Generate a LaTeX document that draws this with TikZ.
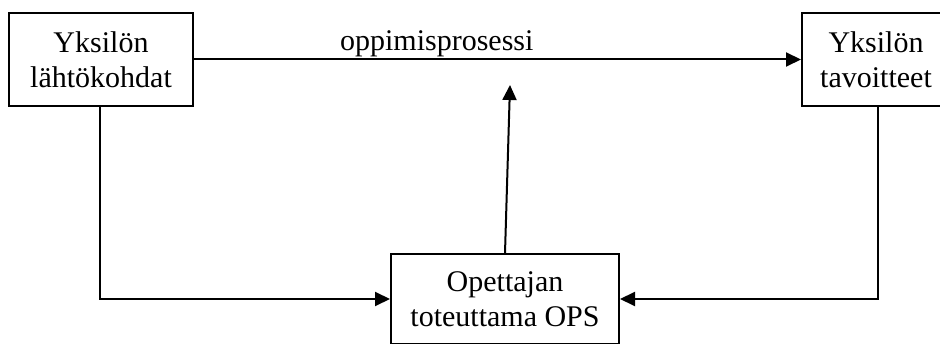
\documentclass[tikz,border=0pt]{standalone}
\usepackage{fontspec}
\setmainfont{Liberation Serif}
\usetikzlibrary{arrows.meta, positioning}

\begin{document}
\begin{tikzpicture}[
        x=1pt, y=-1pt,
        box/.style={rectangle, draw=black, line width=2pt, align=center, inner sep=0pt, font=\fontsize{30}{35}\selectfont},
        arrow/.style={-{Triangle[length=15pt, width=14pt]}, line width=2pt}
    ]
        \useasboundingbox (0,0) rectangle (940,344);

        % Nodes
        \node[box, minimum width=184pt, minimum height=93pt] (lahto) at (101,59.5) {Yksilön \\ lähtökohdat};
        \node[box, minimum width=148pt, minimum height=93pt] (tavoite) at (876,59.5) {Yksilön \\ tavoitteet};
        \node[box, minimum width=228pt, minimum height=90pt] (ops) at (505,299) {Opettajan \\ toteuttama OPS};
        \coordinate (prosessi) at (510,85);

        % Connections
        \draw[arrow] (lahto) -- (tavoite) node[pos=0.4, above=2pt, inner sep=0pt, font=\fontsize{30}{35}\selectfont] {oppimisprosessi};
        \draw[arrow] (ops.north) -- (prosessi);
        \draw[arrow] ([xshift=-1pt]lahto.south) |- (ops.west);
        \draw[arrow] ([xshift=2pt]tavoite.south) |- (ops.east);
    \end{tikzpicture}
\end{document}
